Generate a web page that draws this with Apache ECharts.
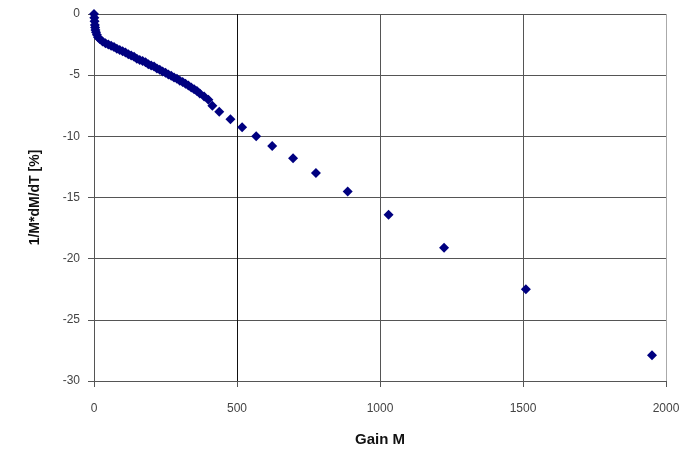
<!DOCTYPE html>
<html>
<head>
<meta charset="utf-8">
<script src="https://cdn.jsdelivr.net/npm/echarts@6/dist/echarts.min.js"></script>
<style>
  html, body { margin: 0; padding: 0; background: #fff; }
  #chart { width: 687px; height: 455px; }
</style>
</head>
<body>
<div id="chart"></div>
<script>
// gain M values and the matching 1/M*dM/dT [%]
var gain = [0, 1, 2, 3, 4, 5, 7, 10, 14, 20, 30, 40, 50, 60, 70, 80, 90, 100,
  110, 120, 130, 140, 150, 160, 170, 180, 190, 200, 210, 220, 230, 240, 250,
  260, 270, 280, 290, 300, 310, 320, 330, 340, 350, 360, 370, 385, 400, 414,
  438, 477, 518, 567, 623, 696, 776, 887, 1030, 1224, 1510, 1951];
var coef = [0, -0.3, -0.6, -0.9, -1.1, -1.3, -1.5, -1.7, -1.9, -2.05, -2.25, -2.4,
  -2.5, -2.6, -2.7, -2.85, -2.95, -3.05, -3.15, -3.3, -3.4, -3.5, -3.65, -3.75,
  -3.85, -3.95, -4.1, -4.2, -4.3, -4.45, -4.55, -4.7, -4.8, -4.95, -5.05, -5.2,
  -5.3, -5.45, -5.55, -5.7, -5.85, -6.0, -6.15, -6.3, -6.5, -6.75, -7.0, -7.5,
  -8.0, -8.6, -9.25, -10.0, -10.8, -11.8, -13.0, -14.5, -16.4, -19.1, -22.5, -27.9];

var points = gain.map(function (g, i) { return [g, coef[i]]; });

var chart = echarts.init(document.getElementById('chart'));
chart.setOption({
  backgroundColor: '#fff',
  animation: false,
  grid: { left: 94, right: 21, top: 14, bottom: 74 },
  xAxis: {
    type: 'value',
    min: 0, max: 2000, interval: 500,
    name: 'Gain M',
    nameLocation: 'middle',
    nameGap: 51,
    nameTextStyle: { fontFamily: 'Liberation Sans', fontWeight: 'bold', fontSize: 15, color: '#111' },
    axisLine: { show: true, onZero: false, lineStyle: { color: '#555', width: 1 } },
    axisTick: { show: true, length: 6, lineStyle: { color: '#555' } },
    axisLabel: {
      margin: 22, fontFamily: 'Liberation Sans', fontSize: 12, color: '#444',
      formatter: function (v) { return String(v); }
    },
    splitLine: { show: true, lineStyle: { color: ['#888', '#111', '#555', '#555', '#aaa'], width: 1 } }
  },
  yAxis: {
    type: 'value',
    min: -30, max: 0, interval: 5,
    name: '1/M*dM/dT [%]',
    nameLocation: 'middle',
    nameGap: 52,
    nameTextStyle: { fontFamily: 'Liberation Sans', fontWeight: 'bold', fontSize: 14, color: '#111' },
    axisLine: { show: true, onZero: false, lineStyle: { color: '#555', width: 1 } },
    axisTick: { show: true, length: 6, lineStyle: { color: '#555' } },
    axisLabel: { margin: 14, fontFamily: 'Liberation Sans', fontSize: 12, color: '#444' },
    splitLine: { show: true, lineStyle: { color: '#555', width: 1 } }
  },
  series: [{
    type: 'scatter',
    data: points,
    symbol: 'diamond',
    symbolSize: 10,
    itemStyle: { color: '#000080', opacity: 1 }
  }]
});
</script>
</body>
</html>
